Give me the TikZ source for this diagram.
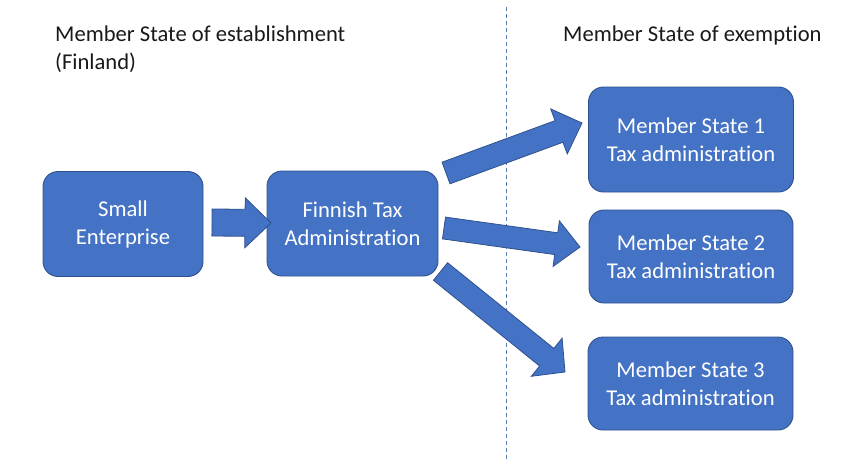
\documentclass[tikz,border=0pt]{standalone}
\usepackage{fontspec}
\setmainfont{Carlito}[Ligatures={NoCommon}]
\usetikzlibrary{calc}
\definecolor{boxfill}{HTML}{4472C4}
\definecolor{boxline}{HTML}{2F528F}
\definecolor{dashcol}{HTML}{5B7DB8}
\tikzset{
  box/.style={draw=boxline, line width=0.9pt, fill=boxfill, rounded corners=15pt,
    text=white, align=center, inner sep=0pt, font=\fontsize{22.6}{28}\selectfont},
  header/.style={align=left, inner sep=0pt, anchor=north west, text=black!90,
    font=\fontsize{22.6}{28}\selectfont},
  blockarrow/.style={draw=boxline, line width=0.8pt, fill=boxfill, line join=miter}
}
% #1 start, #2 tip, #3 shaft half width, #4 head half width, #5 head length
\newcommand{\blockarr}[5]{%
  \coordinate (ba-b) at ($(#2)!#5!(#1)$);
  \draw[blockarrow]
    ($(#1)!#3!90:(#2)$) -- ($(ba-b)!#3!-90:(#1)$) -- ($(ba-b)!#4!-90:(#1)$) --
    (#2) -- ($(ba-b)!#4!90:(#1)$) -- ($(ba-b)!#3!90:(#1)$) --
    ($(#1)!#3!-90:(#2)$) -- cycle;
}
\begin{document}
\begin{tikzpicture}[x=1pt,y=-1pt]
\useasboundingbox (0,0) rectangle (862,463);
% dashed divider
\coordinate (dtop) at (506,7);
\coordinate (dbot) at (506,460);
\draw[dashcol, line width=0.7pt, dash pattern=on 4pt off 3pt] (dtop) -- (dbot);
% headers
\node[header] (hl) at (55,26) {Member State of establishment\\(Finland)};
\node[header] (hr) at (563,26) {Member State of exemption};
% boxes
\node[box, minimum width=160pt, minimum height=105pt] (se) at (123,224) {Small\\Enterprise};
\node[box, minimum width=171pt, minimum height=105pt] (fta) at (352.5,223.5) {Finnish Tax\\Administration};
\node[box, minimum width=205pt, minimum height=105pt] (ms1) at (691,139.5) {Member State 1\\Tax administration};
\node[box, minimum width=204pt, minimum height=93pt] (ms2) at (691,256.5) {Member State 2\\Tax administration};
\node[box, minimum width=205pt, minimum height=93pt] (ms3) at (690.5,383.5) {Member State 3\\Tax administration};
% arrow anchor coordinates
\coordinate (a1s) at (212,222.5);
\coordinate (a1t) at (271,223);
\coordinate (a2s) at (446,173);
\coordinate (a2t) at (582,123);
\coordinate (a3s) at (444,228);
\coordinate (a3t) at (580,247);
\coordinate (a4s) at (440.5,271.5);
\coordinate (a4t) at (565,372);
\blockarr{a1s}{a1t}{13.5pt}{25pt}{26pt}
\blockarr{a2s}{a2t}{11.5pt}{24pt}{24.5pt}
\blockarr{a3s}{a3t}{11pt}{23pt}{24pt}
\blockarr{a4s}{a4t}{11.3pt}{24.5pt}{23.5pt}
\end{tikzpicture}
\end{document}
